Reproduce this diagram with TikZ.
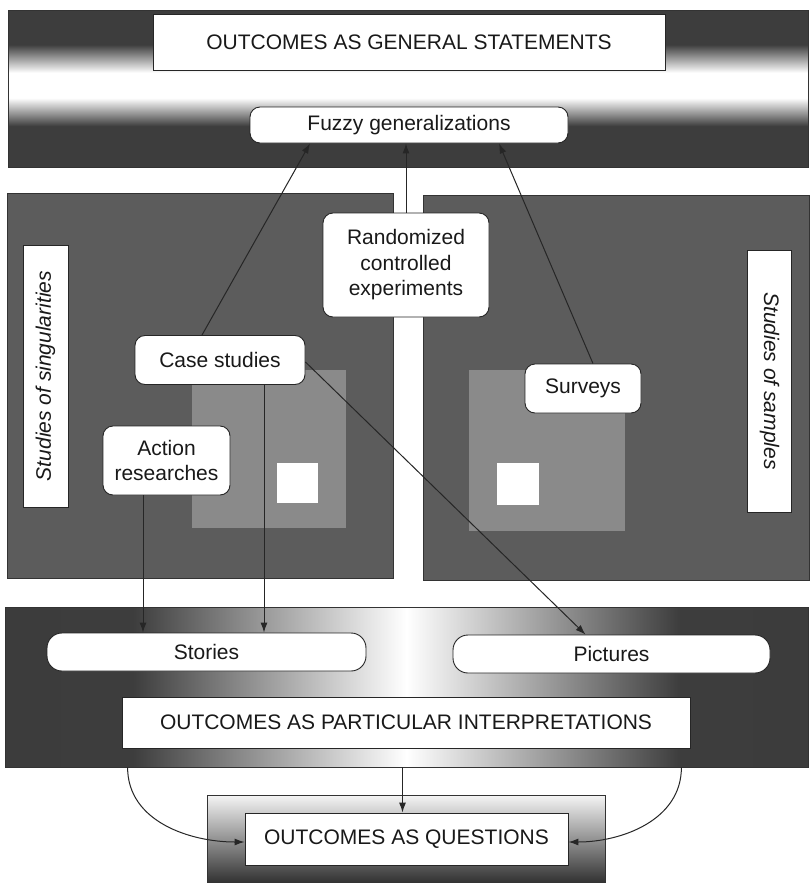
\documentclass[tikz,border=0pt]{standalone}
\usepackage{fontspec}
\setmainfont{Liberation Sans}
\usetikzlibrary{arrows.meta}
\pgfdeclareverticalshading{topglow}{100bp}{color(0bp)=(black!76); color(38bp)=(black!76); color(47bp)=(white); color(55bp)=(white); color(64bp)=(black!76); color(100bp)=(black!76)}
\pgfdeclarehorizontalshading{midglow}{100bp}{color(0bp)=(black!78); color(33bp)=(black!76); color(50bp)=(white); color(67bp)=(black!76); color(100bp)=(black!78)}
\begin{document}
\begin{tikzpicture}[x=1pt, y=-1pt]
  \fill [white] (0, 0) rectangle (811, 884);  % Hintergrund und Groesse.

  \tikzstyle{txt}=[font=\fontsize{21}{25.5}\selectfont, text=black!90, inner sep=0pt, align=center]
  \tikzstyle{box}=[txt, draw=black!85, line width=0.9pt, fill=white]
  \tikzstyle{rbox}=[box, rounded corners=10pt]
  \tikzstyle{pill}=[box, rounded corners=15pt]
  \tikzstyle{vbox}=[box, font=\fontsize{21}{25.5}\selectfont\itshape]
  \tikzstyle{band}=[draw=black!80, line width=0.8pt, inner sep=0pt, shade]
  \tikzstyle{panel}=[fill=black!64, draw=black!80, line width=0.8pt]
  \tikzstyle{lightsq}=[fill=black!46]
  \tikzstyle{arr}=[draw=black!85, line width=1pt, -{Latex[length=10pt, width=7pt]}]

  \node[band, shading=topglow, minimum width=800pt, minimum height=157pt] (topband) at (408, 88.5) {};
  \node[band, shading=midglow, minimum width=803pt, minimum height=160pt] (botband) at (406.5, 687) {};
  \node[band, top color=black!4, bottom color=black!80, minimum width=398pt, minimum height=87pt] (qband) at (406, 838.5) {};

  \filldraw[panel] (7, 193) rectangle (393, 578);
  \filldraw[panel] (423, 195) rectangle (809, 580);
  \fill[lightsq] (192, 370) rectangle (346, 528);
  \fill[lightsq] (469, 370) rectangle (625, 531);
  \fill[white] (277, 463) rectangle (318, 503);
  \fill[white] (497, 463) rectangle (539, 505);

  \node[box, minimum width=512pt, minimum height=56pt] (genst) at (409, 42) {OUTCOMES AS GENERAL STATEMENTS};
  \node[rbox, minimum width=318pt, minimum height=36pt] (fuzzy) at (409, 125) {Fuzzy generalizations};
  \node[rbox, minimum width=166pt, minimum height=104pt] (rce) at (406, 265) {Randomized\\controlled\\experiments};
  \node[rbox, minimum width=170pt, minimum height=49pt] (case) at (220, 360) {Case studies};
  \node[rbox, minimum width=127pt, minimum height=69pt] (action) at (166.5, 460.5) {Action\\researches};
  \node[rbox, minimum width=116pt, minimum height=49pt] (surveys) at (583, 388.5) {Surveys};
  \node[vbox, rotate=90, minimum width=262pt, minimum height=45pt] (sing) at (45.5, 376) {Studies of singularities};
  \node[vbox, rotate=-90, minimum width=262pt, minimum height=44pt] (samp) at (769.5, 381) {Studies of samples};
  \node[pill, minimum width=319pt, minimum height=38pt] (stories) at (206.5, 652) {Stories};
  \node[pill, minimum width=317pt, minimum height=38pt] (pictures) at (611.5, 654) {Pictures};
  \node[box, minimum width=568pt, minimum height=51pt] (partic) at (406, 722.5) {OUTCOMES AS PARTICULAR INTERPRETATIONS};
  \node[box, minimum width=323pt, minimum height=52pt] (quest) at (406.5, 839) {OUTCOMES AS QUESTIONS};

  \draw[arr] ([xshift=-18pt]case.north) -- ([xshift=-99pt]fuzzy.south);
  \draw[arr] (rce.north) -- (rce.north |- fuzzy.south);
  \draw[arr] ([xshift=10pt]surveys.north) -- ([xshift=90pt]fuzzy.south);
  \draw[arr] ([xshift=-23.5pt]action.south) -- ([xshift=-23.5pt]action.south |- stories.north);
  \draw[arr] ([xshift=44pt]case.south) -- ([xshift=44pt]case.south |- stories.north);
  \draw[arr] ([yshift=-2pt]case.east) -- ([xshift=-26pt]pictures.north);
  \draw[arr] ([xshift=-4pt]botband.south) -- ([xshift=-4pt]botband.south |- quest.north);
  \draw[arr] ([xshift=123pt]botband.south west) to[out=-90, in=180] ([yshift=-3pt]quest.west);
  \draw[arr] ([xshift=-127pt]botband.south east) to[out=-90, in=0] ([yshift=-3pt]quest.east);
\end{tikzpicture}
\end{document}
